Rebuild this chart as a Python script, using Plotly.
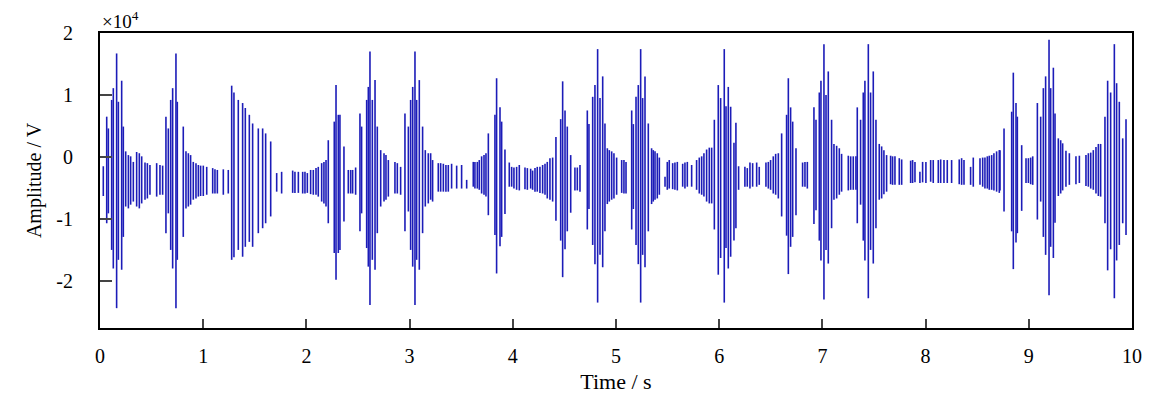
import plotly.graph_objects as go

# Time of each visible spike (s) and its upper / lower extreme (x 10^4 V)
t = [0.032,0.065,0.081,0.113,0.129,0.161,0.178,0.210,0.226,0.249,0.275,0.297,0.323,0.355,0.381,0.404,0.436,0.459,0.484,0.549,0.581,0.607,
     0.639,0.662,0.685,0.704,0.736,0.749,0.807,0.833,0.856,0.878,0.904,0.930,0.953,0.975,1.001,1.034,1.092,1.114,1.137,1.195,1.243,
     1.276,1.298,1.340,1.382,1.408,1.447,1.479,1.534,1.576,1.605,1.654,1.712,1.760,
     1.867,1.889,1.922,1.964,1.986,2.009,2.041,2.067,2.093,2.115,2.148,2.170,2.190,2.212,2.270,2.287,2.309,2.325,2.364,2.406,2.429,2.448,2.477,
     2.519,2.535,2.584,2.600,2.616,2.639,2.665,2.687,2.720,2.752,2.771,2.794,2.858,2.881,2.913,2.955,2.988,3.010,3.030,3.052,3.068,3.094,3.126,
     3.152,3.181,3.204,3.223,3.278,3.301,3.327,3.352,3.375,3.407,3.456,3.504,3.553,
     3.617,3.633,3.656,3.675,3.698,3.721,3.740,3.763,3.827,3.843,3.876,3.892,3.924,3.966,3.989,4.011,4.037,4.063,4.118,4.141,4.173,4.192,4.215,
     4.237,4.263,4.289,4.312,4.334,4.360,4.386,4.418,4.464,4.483,4.506,4.528,4.561,4.602,4.625,4.651,4.722,4.738,4.774,4.796,4.822,4.845,4.871,
     4.893,4.916,4.935,4.958,4.980,5.006,5.055,5.077,5.097,5.152,5.168,5.194,5.216,5.239,5.258,5.281,5.313,5.345,5.361,5.378,5.400,5.420,5.475,5.497,
     5.516,5.549,5.571,5.594,5.646,5.668,5.691,5.733,5.781,5.807,5.830,5.852,5.878,5.904,5.927,5.953,5.991,6.014,6.049,6.066,6.088,6.111,6.143,6.162,
     6.188,6.249,6.272,6.298,6.324,6.363,6.388,6.453,6.476,6.498,6.524,6.547,6.573,6.605,6.653,6.670,6.692,6.712,6.744,6.808,6.831,6.854,
     6.918,6.938,6.970,6.986,7.015,7.035,7.057,7.089,7.112,7.138,7.164,7.186,7.251,7.274,7.299,7.325,
     7.338,7.370,7.396,7.412,7.445,7.467,7.493,7.519,7.551,7.574,7.596,7.622,7.661,7.680,7.703,7.745,7.768,7.855,7.874,7.897,7.945,7.971,8.003,
     8.049,8.074,8.123,8.146,8.178,8.210,8.252,8.326,8.349,8.372,8.436,8.462,8.527,8.553,8.575,8.598,8.617,8.640,8.662,8.688,8.714,
     8.721,8.760,8.834,8.850,8.876,8.889,8.931,8.973,8.996,9.018,9.038,9.083,9.115,9.141,9.163,9.196,9.212,9.238,9.254,9.286,9.309,9.328,9.360,
     9.393,9.457,9.490,9.554,9.577,9.600,9.625,9.651,9.674,9.696,9.738,9.764,9.793,9.829,9.851,9.877,9.910,9.942]

hi = [-0.15,0.65,0.46,0.92,1.11,1.67,0.89,1.23,0.49,0.09,0.03,0.01,-0.08,0.08,0.06,0.01,-0.09,-0.10,-0.13,-0.10,-0.13,-0.14,
      0.65,0.46,0.92,1.11,1.67,0.89,0.49,0.09,0.06,0.03,-0.08,-0.10,-0.13,-0.14,-0.14,-0.16,-0.18,-0.20,-0.21,-0.20,-0.21,
      1.15,1.04,0.92,0.87,0.79,0.68,0.54,0.46,0.46,0.38,0.25,-0.26,-0.24,
      -0.22,-0.24,-0.24,-0.24,-0.24,-0.26,-0.21,-0.21,-0.18,-0.16,-0.10,-0.08,-0.05,0.27,0.57,1.16,0.68,0.68,0.17,-0.21,-0.21,-0.21,-0.17,
      0.70,0.49,0.92,1.13,1.70,0.92,1.24,0.49,0.11,0.06,0.03,-0.05,-0.08,-0.10,-0.16,0.70,0.49,0.92,1.13,1.70,0.92,1.24,0.49,
      0.11,0.06,0.06,-0.05,-0.10,-0.10,-0.11,-0.13,-0.13,-0.11,-0.14,-0.13,-0.37,
      -0.08,-0.08,-0.08,-0.05,0.01,0.03,0.06,0.38,0.68,1.27,0.80,0.57,0.12,-0.09,-0.16,-0.17,-0.16,-0.13,-0.17,-0.18,-0.19,-0.22,-0.18,
      -0.16,-0.16,-0.13,-0.11,-0.08,-0.02,-0.01,0.32,0.61,1.22,0.75,0.49,0.03,-0.17,-0.17,-0.13,0.75,0.53,0.97,1.16,1.74,0.95,1.30,
      0.54,0.14,0.11,0.09,0.06,-0.01,-0.05,-0.05,-0.08,0.75,0.53,0.97,1.16,1.74,0.95,1.30,0.54,0.14,0.11,0.09,0.06,-0.01,-0.32,-0.08,
      -0.05,-0.10,-0.09,-0.08,-0.11,-0.09,-0.08,-0.13,-0.05,-0.01,0.01,0.06,0.12,0.15,0.15,0.60,1.16,0.95,1.74,0.82,1.13,0.81,0.23,0.55,
      -0.15,-0.16,-0.18,-0.09,-0.10,-0.09,-0.16,-0.09,-0.08,-0.05,0.01,0.05,0.06,0.38,0.68,1.27,0.80,0.57,0.14,-0.09,-0.08,-0.08,
      0.80,0.60,1.04,1.23,1.82,1.00,1.38,0.60,0.21,0.18,0.14,0.05,0.02,0.01,0.01,0.01,
      0.80,0.60,1.04,1.23,1.82,1.04,1.38,0.60,0.21,0.17,0.11,0.03,0.02,0.01,0.01,-0.02,-0.04,-0.06,-0.05,-0.08,-0.24,-0.08,-0.08,
      -0.05,-0.05,-0.05,-0.04,-0.05,-0.05,-0.05,-0.04,-0.02,-0.05,-0.16,-0.01,-0.02,-0.01,-0.01,0.01,0.02,0.03,0.06,0.09,0.11,
      0.11,0.46,0.73,1.36,0.87,0.65,0.19,-0.02,-0.02,-0.01,0.01,0.87,0.65,1.11,1.30,1.89,1.11,1.44,0.70,0.30,0.27,0.22,0.10,
      0.06,0.01,0.02,0.03,0.06,0.07,0.11,0.16,0.21,0.21,0.65,1.23,1.04,1.82,1.19,0.89,0.30,0.61]

lo = [-0.63,-1.07,-0.91,-1.50,-1.80,-2.44,-1.66,-1.82,-1.29,-0.80,-0.83,-0.77,-0.72,-0.80,-0.83,-0.75,-0.69,-0.67,-0.61,-0.64,-0.61,-0.61,
      -1.23,-0.91,-1.50,-1.80,-2.44,-1.66,-1.29,-0.83,-0.80,-0.77,-0.69,-0.67,-0.64,-0.63,-0.63,-0.61,-0.59,-0.59,-0.59,-0.61,-0.59,
      -1.66,-1.62,-1.50,-1.61,-1.45,-1.37,-1.45,-1.23,-1.15,-1.07,-0.96,-0.56,-0.59,
      -0.58,-0.58,-0.58,-0.59,-0.59,-0.58,-0.60,-0.61,-0.61,-0.64,-0.72,-0.75,-0.80,-1.07,-1.55,-1.98,-1.55,-1.50,-1.04,-0.59,-0.59,-0.59,-0.61,
      -1.20,-0.91,-1.47,-1.77,-2.39,-1.66,-1.82,-1.23,-0.80,-0.72,-0.69,-0.64,-0.59,-0.59,-0.61,-1.20,-0.88,-1.50,-1.77,-2.39,-1.66,-1.82,-1.23,
      -0.80,-0.75,-0.69,-0.72,-0.56,-0.56,-0.56,-0.56,-0.56,-0.51,-0.51,-0.51,-0.51,
      -0.48,-0.51,-0.51,-0.53,-0.59,-0.61,-0.64,-0.94,-1.26,-1.88,-1.44,-1.29,-0.92,-0.48,-0.48,-0.51,-0.53,-0.54,-0.52,-0.53,-0.51,-0.53,-0.56,
      -0.56,-0.58,-0.59,-0.61,-0.67,-0.69,-0.72,-1.03,-1.35,-1.94,-1.49,-1.20,-0.90,-0.54,-0.54,-0.56,-1.17,-0.84,-1.42,-1.73,-2.35,-1.58,-1.78,
      -1.20,-0.76,-0.72,-0.69,-0.67,-0.61,-0.58,-0.59,-0.59,-1.17,-0.84,-1.42,-1.73,-2.35,-1.58,-1.78,-1.20,-0.76,-0.72,-0.69,-0.67,-0.61,-0.48,-0.53,
      -0.51,-0.52,-0.53,-0.54,-0.48,-0.51,-0.48,-0.48,-0.53,-0.59,-0.61,-0.64,-0.72,-0.75,-0.75,-1.17,-1.90,-1.63,-2.35,-1.47,-1.80,-1.61,-1.35,-1.15,
      -0.53,-0.48,-0.48,-0.51,-0.48,-0.48,-0.45,-0.48,-0.51,-0.53,-0.59,-0.61,-0.67,-0.96,-1.27,-1.89,-1.45,-1.29,-0.94,-0.48,-0.48,-0.51,
      -1.08,-0.86,-1.35,-1.67,-2.30,-1.50,-1.72,-1.15,-0.69,-0.67,-0.61,-0.56,-0.54,-0.53,-0.53,-0.53,
      -1.07,-0.77,-1.35,-1.67,-2.28,-1.50,-1.72,-1.15,-0.69,-0.67,-0.60,-0.56,-0.44,-0.45,-0.45,-0.45,-0.45,-0.42,-0.42,-0.41,-0.42,-0.41,-0.42,
      -0.40,-0.42,-0.42,-0.42,-0.42,-0.42,-0.42,-0.44,-0.45,-0.45,-0.45,-0.48,-0.45,-0.48,-0.51,-0.51,-0.53,-0.53,-0.54,-0.56,-0.58,
      -0.54,-0.88,-1.20,-1.81,-1.38,-1.23,-0.87,-0.42,-0.42,-0.44,-0.45,-1.01,-0.72,-1.29,-1.58,-2.23,-1.45,-1.63,-1.06,-0.63,-0.59,-0.54,-0.48,
      -0.45,-0.44,-0.42,-0.47,-0.48,-0.51,-0.53,-0.59,-0.63,-0.64,-1.07,-1.83,-1.49,-2.28,-1.67,-1.42,-1.07,-1.26]

x_ticks = [0, 1, 2, 3, 4, 5, 6, 7, 8, 9, 10]
y_ticks = [-2, -1, 0, 1, 2]
y_tick_text = ["-2", "-1", "0", "1", "2"]

xs, ys = [], []
for ti, h, l in zip(t, hi, lo):
    xs += [ti, ti, None]
    ys += [h, l, None]

fig = go.Figure(go.Scatter(x=xs, y=ys, mode="lines",
                           line=dict(color="#1c1cb8", width=1.6),
                           connectgaps=False, hoverinfo="skip"))

font = "Liberation Serif, Times New Roman, serif"
fig.update_layout(
    width=1144, height=391,
    margin=dict(l=92, r=20, t=25, b=71, autoexpand=False),
    paper_bgcolor="white", plot_bgcolor="white",
    showlegend=False,
    font=dict(family=font, size=20, color="black"),
    xaxis=dict(range=[0, 10], tickvals=x_ticks, ticks="inside", ticklen=9, tickwidth=1.5,
               showline=True, linecolor="black", linewidth=2, mirror=True,
               showgrid=False, zeroline=False, ticklabelstandoff=9,
               tickfont=dict(size=20),
               title=dict(text="Time / s", standoff=8, font=dict(size=22))),
    yaxis=dict(range=[-2.76, 2.0], tickvals=y_ticks, ticktext=y_tick_text,
               ticks="inside", ticklen=12, tickwidth=1.5,
               showline=True, linecolor="black", linewidth=2, mirror=True,
               showgrid=False, zeroline=False, ticklabelstandoff=21,
               tickfont=dict(size=20),
               title=dict(text="Amplitude / V", standoff=9, font=dict(size=20))),
    annotations=[dict(text="×10<sup>4</sup>", xref="paper", yref="paper", x=0, y=1.0,
                      xanchor="left", yanchor="bottom", showarrow=False, yshift=-1,
                      font=dict(family=font, size=19, color="black"))],
)

fig.write_html("out.html")
